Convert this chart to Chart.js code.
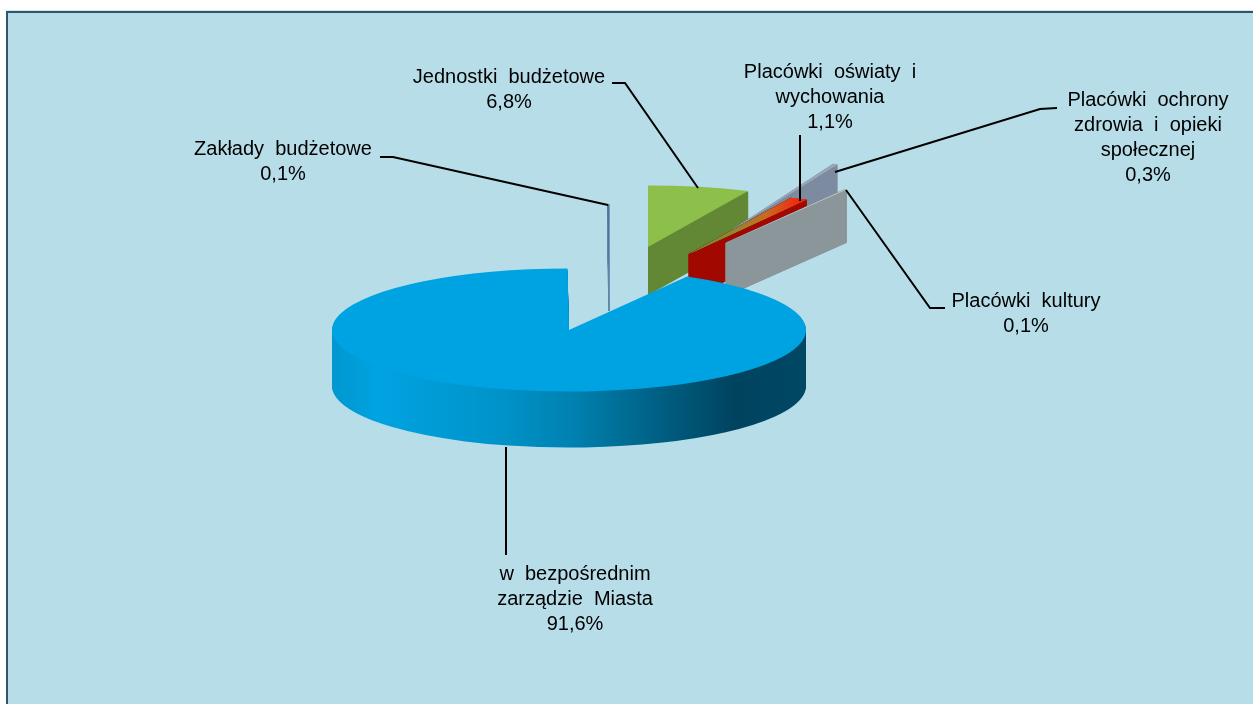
<!DOCTYPE html>
<html><head><meta charset="utf-8">
<style>html,body{margin:0;padding:0;background:#fff;overflow:hidden}#c{position:absolute;left:0;top:0;display:block}</style>
<script src="https://cdn.jsdelivr.net/npm/chart.js@4/dist/chart.umd.min.js"></script>
</head><body><canvas id="c" width="1253" height="704" style="width:1253px;height:704px"></canvas>
<script>
// DATA
const categories = ["Jednostki budżetowe","Placówki oświaty i wychowania","Placówki ochrony zdrowia i opieki społecznej","Placówki kultury","w bezpośrednim zarządzie Miasta","Zakłady budżetowe"];
const shares = [6.8,1.1,0.3,0.1,91.6,0.1];

// STYLE / 3D LOOK
const FLAT = 0.26;
const sliceShift = [[79,-83],[120,-76],[163,-100],[157,-87],[0,0],[40,-64]];
const sliceScale = [[1.02,1],[1.04,1],[0.9,1.22],[1.02,1],[1,1],[1,1]];
const sliceDepth = [48,44,30,53,56,45];
const drawOrder = [0,2,1,3,5,4];
const passes = [1,3,3,3,1,3];
const topColors = ["#8cc04b",null,"#9aa8b8","#b4c2c6","#00a3e2","#4f739f"];
const wallColors = ["#638835","#a00800","#7c8b9f","#8a9699",null,"#5f86a6"];
const labelBlocks = [
 {lines:["Jednostki  budżetowe","6,8%"],x:509,y:77},
 {lines:["Placówki  oświaty  i","wychowania","1,1%"],x:830,y:72},
 {lines:["Placówki  ochrony","zdrowia  i  opieki","społecznej","0,3%"],x:1148,y:100},
 {lines:["Placówki  kultury","0,1%"],x:1026,y:301},
 {lines:["w  bezpośrednim","zarządzie  Miasta","91,6%"],x:575,y:574},
 {lines:["Zakłady  budżetowe","0,1%"],x:283,y:149}
];
const leaders = [
 [[612,83],[625,83],[698,188]],
 [[800,135],[800,201]],
 [[1057,108],[1040,109],[835,172]],
 [[945,308],[930,308],[846,190]],
 [[506,555],[506,447]],
 [[380,157],[393,157],[608,205]]
];

const scene = {
 id:'scene',
 beforeDraw(chart){
  const g=chart.ctx;
  g.save();
  g.fillStyle='#cbe7ef';g.fillRect(6,10,1247,1);
  g.fillStyle='#b7dde8';g.fillRect(6,11,1247,693);
  g.fillStyle='#2f5566';g.fillRect(6,11,1247,2);g.fillRect(6,11,2,693);
  g.restore();
 },
 beforeDatasetsDraw(chart){
  const g=chart.ctx, arcs=chart.getDatasetMeta(0).data;
  const mainWall=g.createLinearGradient(332,0,806,0);
  [[0,'#0097cf'],[0.1,'#00a3e2'],[0.35,'#0093c9'],[0.5,'#0082b2'],[0.72,'#005a7c'],[0.85,'#00435f'],[1,'#004864']].forEach(s=>mainWall.addColorStop(s[0],s[1]));
  const redTop=g.createLinearGradient(569+10,0,569+118,0);
  [[0,'#6f8a35'],[0.3,'#8f8a30'],[0.6,'#c96a20'],[0.88,'#ee2a10'],[1,'#f01c08']].forEach(s=>redTop.addColorStop(s[0],s[1]));
  const paint=(arc,i,layer,color)=>{
   const o=Object.create(arc.options);
   o.backgroundColor=color;
   const real=arc.options; arc.options=o;
   g.save();
   g.translate(arc.x+sliceShift[i][0],arc.y+sliceShift[i][1]+layer);
   g.scale(sliceScale[i][0],sliceScale[i][1]*FLAT);
   g.translate(-arc.x,-arc.y);
   arc.draw(g);
   g.restore();
   arc.options=real;
  };
  // side wall of a cut edge, taken from the arc element's own angle and radius
  const cutWall=(arc,i,angle,color)=>{
   const ax=arc.x+sliceShift[i][0], ay=arc.y+sliceShift[i][1], d=sliceDepth[i];
   const tx=ax+Math.cos(angle)*arc.outerRadius*sliceScale[i][0];
   const ty=ay+Math.sin(angle)*arc.outerRadius*sliceScale[i][1]*FLAT;
   g.save();
   g.fillStyle=color;g.strokeStyle=color;g.lineWidth=1;
   g.beginPath();g.moveTo(ax,ay);g.lineTo(tx,ty);g.lineTo(tx,ty+d);g.lineTo(ax,ay+d);g.closePath();
   g.fill();
   if(i!==0) g.stroke();
   g.restore();
  };
  drawOrder.forEach(i=>{
   const arc=arcs[i];
   const wall=wallColors[i]||mainWall, top=i===1?redTop:topColors[i];
   for(let d=sliceDepth[i];d>=1;d--) paint(arc,i,d,wall);
   if(i!==4){cutWall(arc,i,arc.startAngle,wall);cutWall(arc,i,arc.endAngle,wall);}
   for(let p=0;p<passes[i];p++) paint(arc,i,0,top);
  });
  // leaders
  g.save();
  g.strokeStyle='#000';g.lineWidth=2;g.lineJoin='miter';
  leaders.forEach(p=>{g.beginPath();p.forEach((q,k)=>k?g.lineTo(q[0],q[1]):g.moveTo(q[0],q[1]));g.stroke();});
  // labels
  g.fillStyle='#000';g.font='20px "Liberation Sans", Arial, sans-serif';g.textAlign='center';g.textBaseline='middle';
  labelBlocks.forEach(b=>b.lines.forEach((t,k)=>g.fillText(t,b.x,b.y+k*25)));
  g.restore();
  return false;
 }
};

new Chart(document.getElementById('c'),{
 type:'pie',
 data:{labels:categories,datasets:[{data:shares,backgroundColor:topColors.map(c=>c||'#000'),borderWidth:0}]},
 options:{responsive:false,animation:false,events:[],
  layout:{padding:{left:0,right:115,top:93,bottom:137}},
  plugins:{legend:{display:false},tooltip:{enabled:false},title:{display:false}}},
 plugins:[scene]
});
</script>
</body></html>
